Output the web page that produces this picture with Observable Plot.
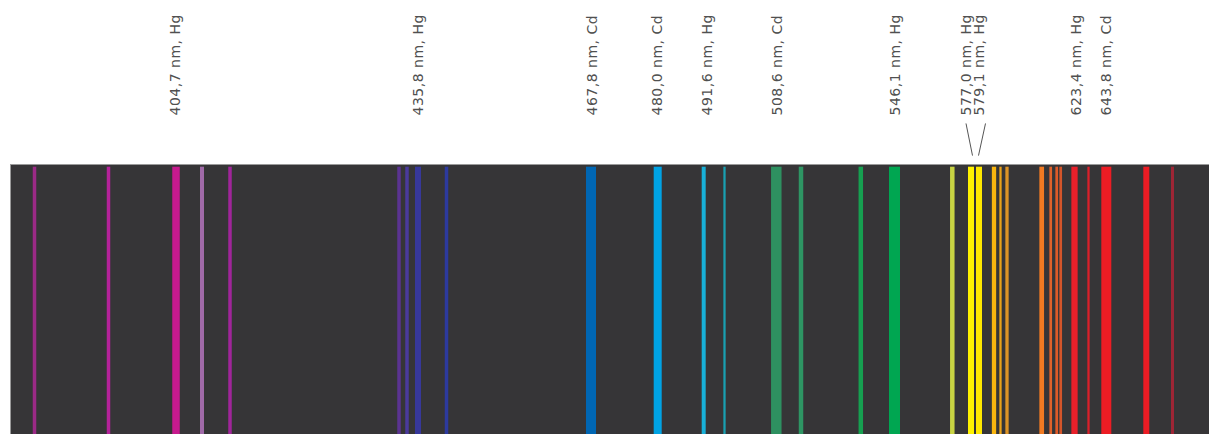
<!DOCTYPE html>
<html>
<head>
<meta charset="utf-8">
<script src="https://cdn.jsdelivr.net/npm/d3@7"></script>
<script src="https://cdn.jsdelivr.net/npm/@observablehq/plot@0.6"></script>
<style>
  html, body { margin: 0; padding: 0; background: #ffffff; overflow: hidden; }
  #chart svg text { letter-spacing: 0.5px; }
</style>
</head>
<body>
<div id="chart"></div>
<script>
// Emission lines: position along the photographed spectrum, line width (same units), colour
const linePos   = [24.5, 98.5, 166, 192, 220, 389, 397, 408, 436.5, 581, 647.7, 693.7, 714.5, 766.3, 791, 850.8, 884.5,
                   942.3, 961, 969, 984, 990.5, 997, 1031.7, 1040.7, 1046.7, 1050.7, 1064.5, 1078.5, 1096.3, 1136.3, 1162.5];
const lineWidth = [3.5, 3.5, 7.5, 4, 3.5, 3.5, 3.5, 6, 3.5, 10, 8, 4, 2.3, 10.5, 4.5, 4.5, 11,
                   4.5, 6, 6, 4.3, 2.3, 3.3, 4.7, 2.7, 2.7, 2.7, 6.3, 2.3, 10, 6, 3];
const lineColor = ["#9b2a86", "#b5229a", "#c71a8e", "#a06aa8", "#a0259a", "#5b3391", "#4a3a9c", "#37389a", "#2d3a9e",
                   "#0066b3", "#00a3e4", "#18b0d8", "#1a9fb0", "#2e9060", "#2e9563", "#16a050", "#00a651",
                   "#c9d443", "#fff200", "#ffe800", "#f9b50f", "#eaa21a", "#dc9326", "#f17a22", "#e0622a", "#de5a28",
                   "#d4552a", "#e8202a", "#d9202a", "#ed1c24", "#ec1c24", "#9e2535"];

// Labels of identified lines
const labelText = ["404,7 nm, Hg", "435,8 nm, Hg", "467,8 nm, Cd", "480,0 nm, Cd", "491,6 nm, Hg", "508,6 nm, Cd",
                   "546,1 nm, Hg", "577,0 nm, Hg", "579,1 nm, Hg", "623,4 nm, Hg", "643,8 nm, Cd"];
const labelPos  = [165.5, 408, 582, 647, 697, 767, 885, 956, 969, 1066, 1096];

// Leader lines for the close Hg doublet (label position -> line position)
const leaderFrom = [955.5, 975];
const leaderTo   = [962, 968];

const lines = linePos.map((p, i) => ({pos: p, w: lineWidth[i], color: lineColor[i]}));
const labels = labelText.map((t, i) => ({text: t, pos: labelPos[i]}));
const leaders = leaderFrom.map((f, i) => ({from: f, to: leaderTo[i]}));

const chart = Plot.plot({
  width: 1209,
  height: 434,
  marginTop: 164,
  marginLeft: 10,
  marginRight: 0,
  marginBottom: 0,
  x: {domain: [0, 1199], axis: null},
  y: {domain: [0, 1], axis: null},
  style: {background: "#ffffff", overflow: "hidden"},
  marks: [
    Plot.frame({fill: "#363537", stroke: "#9a9a9a", strokeWidth: 1, insetRight: -3, insetBottom: -3}),
    Plot.rect(lines, {
      x1: d => d.pos - d.w / 2,
      x2: d => d.pos + d.w / 2,
      y1: 0,
      y2: 0.99,
      fill: "color"
    }),
    Plot.link(leaders, {
      x1: "from", x2: "to",
      y1: 1.152, y2: 1.033,
      stroke: "#555555",
      strokeWidth: 1
    }),
    Plot.text(labels, {
      x: "pos",
      text: "text",
      frameAnchor: "top",
      dy: -49,
      rotate: -90,
      textAnchor: "start",
      lineAnchor: "middle",
      fontSize: 14,
      fontFamily: "DejaVu Sans",
      fill: "#505050"
    })
  ]
});
document.getElementById("chart").appendChild(chart);
</script>
</body>
</html>
